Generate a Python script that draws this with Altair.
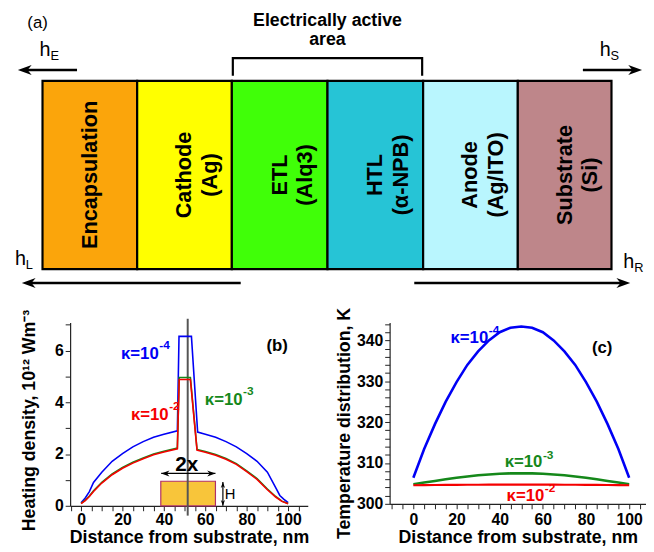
import altair as alt
import pandas as pd

FONT = "Liberation Sans"

# ---------------- panel (a): layer stack schematic ----------------
layer_labels = ["Encapsulation", "Cathode\n(Ag)", "ETL\n(Alq3)", "HTL\n(α-NPB)",
                "Anode\n(Ag/ITO)", "Substrate\n(Si)"]
layer_edges = [42, 138, 234, 331, 428, 524, 619]
layer_colors = ["#FBA50B", "#FFFF00", "#40FF08", "#26C4D6", "#B9F6FE", "#BE868A"]
stack_top, stack_bottom = 76, 267

bracket_x = [235, 235, 427, 427]
bracket_y = [71, 53, 53, 71]
bracket_text = ["Electrically active", "area"]
bracket_text_y = [15, 35]

arrow_tail = [77, 590, 243, 419]
arrow_tip = [17, 650, 21, 638]
arrow_y = [65, 65, 281, 281]

h_x = [39, 607, 14, 631]
h_y = [51, 51, 263, 266]
h_sub = ["E", "S", "L", "R"]
h_sub_x = [50, 618, 25, 642]
h_sub_y = [55, 55, 267, 270]

# ---------------- panel (b): heating density ----------------
heat_x_blue = [0, 2, 4, 6, 10, 15, 20, 25, 30, 35, 40, 46.5, 47.3, 53.3, 56.3,
               60, 65, 70, 75, 80, 85, 90, 94, 96, 98, 100]
heat_blue = [0.12, 0.3, 0.55, 0.9, 1.3, 1.72, 2.02, 2.28, 2.48, 2.65, 2.77, 2.9,
             6.55, 6.55, 2.85, 2.77, 2.65, 2.48, 2.28, 2.02, 1.72, 1.3, 0.7, 0.4, 0.25, 0.12]
heat_x_rg = [0, 2, 4, 6, 10, 15, 20, 25, 30, 35, 40, 46.5, 47.4, 52.8, 56.0,
             60, 65, 70, 75, 80, 85, 90, 94, 97, 100]
heat_red = [0.08, 0.2, 0.36, 0.55, 0.88, 1.2, 1.45, 1.65, 1.82, 1.97, 2.08, 2.2,
            4.88, 4.88, 2.15, 2.07, 1.95, 1.8, 1.6, 1.32, 1.02, 0.62, 0.34, 0.17, 0.08]
heat_green = [0.09, 0.22, 0.38, 0.58, 0.91, 1.23, 1.48, 1.68, 1.85, 2.0, 2.11, 2.23,
              4.96, 4.96, 2.18, 2.1, 1.98, 1.83, 1.63, 1.35, 1.05, 0.65, 0.36, 0.18, 0.09]

center_line_x = 51.5
center_line_y = [-0.38, 7.23]
source_box_x = [38.5, 64.9]
source_box_y = [0, 0.95]
width_arrow_x = [38.7, 64.9]
width_arrow_y = 1.25
height_arrow_x = 68.5
height_arrow_y = [0, 0.92]

b_labels = ["κ=10", "κ=10", "κ=10"]
b_sups = ["-4", "-3", "-2"]
b_label_x = [37.5, 78.0, 42.3]
b_label_y = [5.87, 4.07, 3.5]
b_sup_y = [6.22, 4.42, 3.85]

# ---------------- panel (c): temperature ----------------
temp_x = [0, 5, 10, 15, 20, 25, 30, 35, 40, 45, 50, 55, 60, 65, 70, 75, 80, 85, 90, 95, 100]
temp_blue = [306.4, 313.4, 319.5, 325.0, 329.8, 334.0, 337.3, 340.0, 342.0, 343.1, 343.4,
             343.1, 342.0, 340.0, 337.3, 334.0, 329.8, 325.0, 319.5, 313.4, 306.4]
temp_green = [304.8, 305.2, 305.6, 306.0, 306.4, 306.7, 307.0, 307.2, 307.35, 307.45, 307.5,
              307.45, 307.35, 307.2, 307.0, 306.7, 306.4, 306.0, 305.6, 305.2, 304.8]
temp_red = [304.55, 304.57, 304.6, 304.62, 304.64, 304.66, 304.67, 304.68, 304.69, 304.7, 304.7,
            304.7, 304.69, 304.68, 304.67, 304.66, 304.64, 304.62, 304.6, 304.57, 304.55]

c_label_x = [34.7, 59.8, 60.7]
c_label_y = [340.65, 310.1, 302.0]
c_sup_y = [342.5, 311.9, 303.8]

BLUE, GREEN, RED = "#0000F5", "#15881A", "#F50000"
series_colors = [BLUE, GREEN, RED]

HEAD_LEFT = "M0,0L2,-0.72L1.4,0L2,0.72Z"
HEAD_RIGHT = "M0,0L-2,-0.72L-1.4,0L-2,0.72Z"
HEAD_UP = "M0,0L-0.72,2L0,1.4L0.72,2Z"
HEAD_DOWN = "M0,0L-0.72,-2L0,-1.4L0.72,-2Z"

# ================= build panel (a) =================
XA = alt.Scale(domain=[70, 653], nice=False, zero=False)
YA = alt.Scale(domain=[8, 311], nice=False, zero=False, reverse=True)


def ax(f):
    return alt.X(f, type="quantitative", scale=XA, axis=None)


def ay(f):
    return alt.Y(f, type="quantitative", scale=YA, axis=None)


df_layers = pd.DataFrame({
    "x": layer_edges[:-1], "x2": layer_edges[1:],
    "y": stack_top, "y2": stack_bottom,
    "color": layer_colors, "label": layer_labels,
})
df_layers["xc"] = (df_layers["x"] + df_layers["x2"]) / 2
df_layers["yc"] = (stack_top + stack_bottom) / 2

boxes = alt.Chart(df_layers).mark_rect(stroke="black", strokeWidth=2.2, clip=False).encode(
    x=ax("x"), x2="x2", y=ay("y"), y2="y2", fill=alt.Fill("color:N", scale=None))
box_text = alt.Chart(df_layers).mark_text(
    angle=270, font=FONT, fontSize=22, fontWeight="bold", lineBreak="\n", lineHeight=26,
    color="black", clip=False).encode(x=ax("xc"), y=ay("yc"), text="label:N")

df_br = pd.DataFrame({"x": bracket_x, "y": bracket_y, "i": range(len(bracket_x))})
bracket = alt.Chart(df_br).mark_line(color="black", strokeWidth=2.2, clip=False).encode(
    x=ax("x"), y=ay("y"), order="i:O")
df_brt = pd.DataFrame({"x": (bracket_x[0] + bracket_x[-1]) / 2, "y": bracket_text_y, "t": bracket_text})
bracket_txt = alt.Chart(df_brt).mark_text(font=FONT, fontSize=18, fontWeight="bold",
                                          color="black", clip=False).encode(
    x=ax("x"), y=ay("y"), text="t:N")

df_arr = pd.DataFrame({"tail": arrow_tail, "tip": arrow_tip, "y": arrow_y})
df_arr["end"] = [t + (8 if tl > t else -8) for t, tl in zip(arrow_tip, arrow_tail)]
df_arr["shape"] = [HEAD_LEFT if tl > t else HEAD_RIGHT for t, tl in zip(arrow_tip, arrow_tail)]
arr_lines = alt.Chart(df_arr).mark_rule(color="black", strokeWidth=2.6, clip=False).encode(
    x=ax("tail"), x2="end", y=ay("y"))
arr_heads = alt.Chart(df_arr).mark_point(filled=True, size=196, color="black", opacity=1,
                                         strokeWidth=0, clip=False).encode(
    x=ax("tip"), y=ay("y"), shape=alt.Shape("shape:N", scale=None))

df_h = pd.DataFrame({"x": h_x, "y": h_y, "t": "h"})
h_main = alt.Chart(df_h).mark_text(font=FONT, fontSize=20, align="left", baseline="alphabetic",
                                   color="black", clip=False).encode(x=ax("x"), y=ay("y"), text="t:N")
df_hs = pd.DataFrame({"x": h_sub_x, "y": h_sub_y, "t": h_sub})
h_subs = alt.Chart(df_hs).mark_text(font=FONT, fontSize=13, align="left", baseline="alphabetic",
                                    color="black", clip=False).encode(x=ax("x"), y=ay("y"), text="t:N")

df_alab = pd.DataFrame({"x": [37], "y": [17], "t": ["(a)"]})
a_label = alt.Chart(df_alab).mark_text(font=FONT, fontSize=17, color="black", clip=False).encode(
    x=ax("x"), y=ay("y"), text="t:N")

panel_a = alt.layer(boxes, box_text, bracket, bracket_txt, arr_lines, arr_heads,
                    h_main, h_subs, a_label).properties(width=583, height=303)

# ================= build panel (b) =================
XB = alt.Scale(domain=[-5.3, 109.5], nice=False, zero=False)
YB = alt.Scale(domain=[0, 7.09], nice=False, zero=False)
axis_xb = alt.Axis(values=list(range(-5, 110, 5)),
                   labelExpr="datum.value % 20 === 0 ? datum.label : ''",
                   title="Distance from substrate, nm", labelPadding=1, titlePadding=1,
                   labelFlush=False, labelOverlap=False)
axis_yb = alt.Axis(values=list(range(0, 8)),
                   labelExpr="datum.value % 2 === 0 ? datum.label : ''",
                   title="Heating density, 10¹² Wm⁻³", titlePadding=16, titleY=99,
                   labelPadding=2, labelFlush=False, labelOverlap=False)


def bx(f):
    return alt.X(f, type="quantitative", scale=XB, axis=axis_xb)


def by(f):
    return alt.Y(f, type="quantitative", scale=YB, axis=axis_yb)


df_box = pd.DataFrame({"x": [source_box_x[0]], "x2": [source_box_x[1]],
                       "y": [source_box_y[0]], "y2": [source_box_y[1]]})
src_box = alt.Chart(df_box).mark_rect(fill="#F8C53A", stroke="#B0306A", strokeWidth=1.2).encode(
    x=bx("x"), x2="x2", y=by("y"), y2="y2")
df_cl = pd.DataFrame({"x": [center_line_x], "y": [center_line_y[0]], "y2": [center_line_y[1]]})
center_line = alt.Chart(df_cl).mark_rule(color="#555555", strokeWidth=2, clip=False).encode(
    x=bx("x"), y=by("y"), y2="y2")

df_hb = pd.DataFrame({"x": heat_x_blue, "y": heat_blue})
df_hr = pd.DataFrame({"x": heat_x_rg, "y": heat_red})
df_hg = pd.DataFrame({"x": heat_x_rg, "y": heat_green})
line_b_blue = alt.Chart(df_hb).mark_line(color=BLUE, strokeWidth=1.6).encode(x=bx("x"), y=by("y"))
line_b_green = alt.Chart(df_hg).mark_line(color=GREEN, strokeWidth=1.6).encode(x=bx("x"), y=by("y"))
line_b_red = alt.Chart(df_hr).mark_line(color=RED, strokeWidth=1.6).encode(x=bx("x"), y=by("y"))

df_wa = pd.DataFrame({"x": [width_arrow_x[0]], "x2": [width_arrow_x[1]], "y": [width_arrow_y]})
w_line = alt.Chart(df_wa).mark_rule(color="black", strokeWidth=1.3).encode(x=bx("x"), x2="x2", y=by("y"))
df_ha = pd.DataFrame({"x": [height_arrow_x], "y": [height_arrow_y[0]], "y2": [height_arrow_y[1]]})
h_line = alt.Chart(df_ha).mark_rule(color="black", strokeWidth=1.2).encode(x=bx("x"), y=by("y"), y2="y2")
df_small_heads = pd.DataFrame({
    "x": [width_arrow_x[0], width_arrow_x[1], height_arrow_x, height_arrow_x],
    "y": [width_arrow_y, width_arrow_y, height_arrow_y[0], height_arrow_y[1]],
    "shape": [HEAD_LEFT, HEAD_RIGHT, HEAD_DOWN, HEAD_UP],
    "size": [70, 70, 36, 36],
})
small_heads = alt.Chart(df_small_heads).mark_point(filled=True, color="black", opacity=1,
                                                   strokeWidth=0).encode(
    x=bx("x"), y=by("y"), shape=alt.Shape("shape:N", scale=None),
    size=alt.Size("size:Q", scale=None))

df_2x = pd.DataFrame({"x": [51.0], "y": [1.56], "t": ["2x"]})
txt_2x = alt.Chart(df_2x).mark_text(font=FONT, fontSize=21, fontWeight="bold", color="black").encode(
    x=bx("x"), y=by("y"), text="t:N")
df_H = pd.DataFrame({"x": [69.4], "y": [0.45], "t": ["H"]})
txt_H = alt.Chart(df_H).mark_text(font=FONT, fontSize=15, align="left", color="black").encode(
    x=bx("x"), y=by("y"), text="t:N")

df_bl = pd.DataFrame({"x": b_label_x, "y": b_label_y, "ys": b_sup_y, "t": b_labels,
                      "s": b_sups, "c": series_colors})
b_lab = alt.Chart(df_bl).mark_text(font=FONT, fontSize=17, fontWeight="bold", align="right").encode(
    x=bx("x"), y=by("y"), text="t:N", color=alt.Color("c:N", scale=None))
b_sup = alt.Chart(df_bl).mark_text(font=FONT, fontSize=12, fontWeight="bold", align="left", dx=0.5).encode(
    x=bx("x"), y=by("ys"), text="s:N", color=alt.Color("c:N", scale=None))
df_bp = pd.DataFrame({"x": [94.7], "y": [6.17], "t": ["(b)"]})
b_panel = alt.Chart(df_bp).mark_text(font=FONT, fontSize=17, fontWeight="bold", color="black").encode(
    x=bx("x"), y=by("y"), text="t:N")

panel_b = alt.layer(src_box, center_line, line_b_blue, line_b_green, line_b_red,
                    w_line, h_line, small_heads, txt_2x, txt_H, b_lab, b_sup, b_panel
                    ).properties(width=241, height=186)

# ================= build panel (c) =================
XC = alt.Scale(domain=[-11, 107.8], nice=False, zero=False)
YC = alt.Scale(domain=[300, 344.4], nice=False, zero=False)
axis_xc = alt.Axis(values=list(range(-10, 110, 5)),
                   labelExpr="datum.value % 20 === 0 ? datum.label : ''",
                   title="Distance from substrate, nm", labelPadding=3, titlePadding=1,
                   labelFlush=False, labelOverlap=False)
axis_yc = alt.Axis(values=list(range(300, 346, 2)),
                   labelExpr="datum.value % 10 === 0 ? datum.label : ''",
                   title="Temperature distribution, K", titlePadding=3, titleY=102,
                   labelPadding=2, labelFlush=False, labelOverlap=False)


def cx(f):
    return alt.X(f, type="quantitative", scale=XC, axis=axis_xc)


def cy(f):
    return alt.Y(f, type="quantitative", scale=YC, axis=axis_yc)


df_tb = pd.DataFrame({"x": temp_x, "y": temp_blue})
df_tg = pd.DataFrame({"x": temp_x, "y": temp_green})
df_tr = pd.DataFrame({"x": temp_x, "y": temp_red})
line_c_blue = alt.Chart(df_tb).mark_line(color=BLUE, strokeWidth=2.6).encode(x=cx("x"), y=cy("y"))
line_c_green = alt.Chart(df_tg).mark_line(color=GREEN, strokeWidth=2.6).encode(x=cx("x"), y=cy("y"))
line_c_red = alt.Chart(df_tr).mark_line(color=RED, strokeWidth=2.2).encode(x=cx("x"), y=cy("y"))

df_cl2 = pd.DataFrame({"x": c_label_x, "y": c_label_y, "ys": c_sup_y, "t": b_labels,
                       "s": b_sups, "c": series_colors})
c_lab = alt.Chart(df_cl2).mark_text(font=FONT, fontSize=17, fontWeight="bold", align="right").encode(
    x=cx("x"), y=cy("y"), text="t:N", color=alt.Color("c:N", scale=None))
c_sup = alt.Chart(df_cl2).mark_text(font=FONT, fontSize=12, fontWeight="bold", align="left", dx=0.5).encode(
    x=cx("x"), y=cy("ys"), text="s:N", color=alt.Color("c:N", scale=None))
df_cp = pd.DataFrame({"x": [87.5], "y": [338.2], "t": ["(c)"]})
c_panel = alt.Chart(df_cp).mark_text(font=FONT, fontSize=17, fontWeight="bold", color="black").encode(
    x=cx("x"), y=cy("y"), text="t:N")

panel_c = alt.layer(line_c_blue, line_c_green, line_c_red, c_lab, c_sup, c_panel
                    ).properties(width=260, height=184)

bottom = alt.hconcat(panel_b, panel_c, spacing=83, bounds="flush")
chart = alt.vconcat(panel_a, bottom, spacing=10, bounds="flush").properties(
    padding={"left": 7, "top": 0, "right": 0, "bottom": 0}
).configure(font=FONT).configure_view(stroke=None).configure_axis(
    grid=False, domainColor="#222222", domainWidth=1.2, tickColor="#222222", tickSize=5,
    tickWidth=1, labelFont=FONT, labelFontSize=16, labelFontWeight="bold", labelColor="black",
    titleFont=FONT, titleFontSize=18, titleFontWeight="bold", titleColor="black")

chart.save("out.html", embed_options={"renderer": "svg", "actions": False})
